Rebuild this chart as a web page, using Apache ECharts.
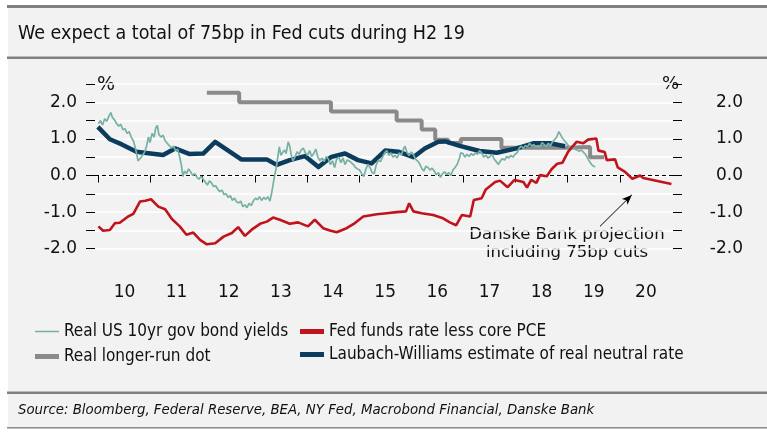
<!DOCTYPE html>
<html>
<head>
<meta charset="utf-8">
<script src="https://cdn.jsdelivr.net/npm/echarts@6/dist/echarts.min.js"></script>
<style>
html,body{margin:0;padding:0;background:#fff;}
#chart{width:767px;height:437px;}
</style>
</head>
<body>
<div id="chart"></div>
<script>
// ---------- DATA (decimal year, % value) ----------
const yearTicks = [2010,2011,2012,2013,2014,2015,2016,2017,2018,2019,2020];
const yearLabelPos = [2010.5,2011.5,2012.5,2013.5,2014.5,2015.5,2016.5,2017.5,2018.5,2019.5,2020.5];
const yearLabels = ['10','11','12','13','14','15','16','17','18','19','20'];
const yTickVals = [-2,-1.5,-1,-0.5,0,0.5,1,1.5,2,2.5];
const yLabelVals = [-2,-1,0,1,2];

const seriesNames = ['Real US 10yr gov bond yields','Fed funds rate less core PCE','Real longer-run dot','Laubach-Williams estimate of real neutral rate'];

const realYield10y = [
[2010.00,1.42],[2010.04,1.50],[2010.08,1.38],[2010.12,1.55],[2010.16,1.48],[2010.20,1.62],[2010.24,1.72],[2010.27,1.58],
[2010.31,1.52],[2010.35,1.42],[2010.39,1.35],[2010.43,1.40],[2010.47,1.25],[2010.51,1.28],[2010.55,1.15],[2010.59,1.20],
[2010.63,1.05],[2010.67,0.95],[2010.70,0.80],[2010.73,0.62],[2010.76,0.40],[2010.79,0.35],[2010.82,0.50],[2010.85,0.45],
[2010.88,0.62],[2010.92,0.78],[2010.96,1.05],[2010.99,0.90],[2011.03,1.15],[2011.07,1.05],[2011.10,1.30],[2011.13,1.37],
[2011.16,1.12],[2011.20,1.05],[2011.24,1.10],[2011.28,0.95],[2011.32,0.88],[2011.36,0.82],[2011.40,0.75],[2011.44,0.80],
[2011.48,0.68],[2011.52,0.72],[2011.56,0.50],[2011.59,0.30],[2011.62,-0.03],[2011.65,0.12],[2011.69,0.05],[2011.73,0.18],
[2011.77,0.10],[2011.81,0.00],[2011.85,0.05],[2011.89,-0.05],[2011.93,-0.10],[2011.97,-0.02],[2012.01,-0.10],[2012.05,-0.18],
[2012.09,-0.26],[2012.13,-0.15],[2012.17,-0.20],[2012.21,-0.30],[2012.25,-0.28],[2012.29,-0.38],[2012.33,-0.44],[2012.37,-0.40],
[2012.41,-0.52],[2012.45,-0.50],[2012.49,-0.60],[2012.53,-0.55],[2012.57,-0.68],[2012.61,-0.62],[2012.65,-0.72],[2012.69,-0.75],
[2012.73,-0.70],[2012.77,-0.85],[2012.81,-0.80],[2012.85,-0.88],[2012.89,-0.76],[2012.93,-0.82],[2012.97,-0.70],[2013.01,-0.62],
[2013.05,-0.66],[2013.09,-0.58],[2013.13,-0.68],[2013.17,-0.60],[2013.21,-0.65],[2013.25,-0.58],[2013.29,-0.70],[2013.32,-0.50],
[2013.35,-0.25],[2013.38,0.00],[2013.41,0.20],[2013.44,0.50],[2013.47,0.78],[2013.50,0.55],[2013.53,0.62],[2013.57,0.70],
[2013.60,0.60],[2013.64,0.92],[2013.67,0.80],[2013.70,0.55],[2013.73,0.40],[2013.77,0.50],[2013.81,0.65],[2013.85,0.58],
[2013.89,0.70],[2013.93,0.75],[2013.97,0.62],[2014.01,0.55],[2014.05,0.68],[2014.09,0.52],[2014.13,0.60],[2014.17,0.72],
[2014.21,0.50],[2014.25,0.40],[2014.29,0.48],[2014.33,0.38],[2014.37,0.52],[2014.41,0.45],[2014.45,0.30],[2014.49,0.40],
[2014.53,0.22],[2014.57,0.45],[2014.61,0.50],[2014.65,0.35],[2014.69,0.48],[2014.73,0.30],[2014.77,0.42],[2014.81,0.40],
[2014.85,0.35],[2014.89,0.30],[2014.93,0.22],[2014.97,0.18],[2015.01,0.15],[2015.05,0.05],[2015.09,-0.03],[2015.13,0.18],
[2015.17,0.30],[2015.21,0.22],[2015.25,0.08],[2015.29,0.05],[2015.33,0.30],[2015.37,0.42],[2015.41,0.38],[2015.45,0.50],
[2015.49,0.62],[2015.53,0.68],[2015.57,0.55],[2015.61,0.62],[2015.65,0.50],[2015.69,0.55],[2015.73,0.48],[2015.77,0.62],
[2015.81,0.56],[2015.85,0.72],[2015.88,0.80],[2015.92,0.62],[2015.96,0.55],[2016.00,0.64],[2016.04,0.58],[2016.08,0.45],
[2016.12,0.40],[2016.16,0.32],[2016.20,0.20],[2016.24,0.12],[2016.28,0.25],[2016.32,0.22],[2016.36,0.15],[2016.40,0.20],
[2016.44,0.12],[2016.48,0.02],[2016.52,0.08],[2016.56,-0.05],[2016.60,0.05],[2016.64,0.10],[2016.68,0.02],[2016.72,0.08],
[2016.76,0.00],[2016.80,0.15],[2016.84,0.22],[2016.88,0.30],[2016.92,0.45],[2016.95,0.62],[2016.99,0.60],[2017.03,0.50],
[2017.07,0.58],[2017.11,0.52],[2017.15,0.60],[2017.19,0.55],[2017.23,0.62],[2017.27,0.58],[2017.31,0.68],[2017.35,0.62],
[2017.39,0.50],[2017.43,0.56],[2017.47,0.48],[2017.51,0.52],[2017.55,0.58],[2017.59,0.45],[2017.63,0.38],[2017.67,0.30],
[2017.71,0.40],[2017.75,0.46],[2017.79,0.42],[2017.83,0.52],[2017.87,0.48],[2017.91,0.55],[2017.95,0.50],[2017.99,0.58],
[2018.03,0.62],[2018.07,0.75],[2018.11,0.80],[2018.15,0.74],[2018.19,0.82],[2018.23,0.78],[2018.27,0.88],[2018.31,0.80],
[2018.35,0.85],[2018.39,0.76],[2018.43,0.82],[2018.47,0.78],[2018.51,0.90],[2018.55,0.84],[2018.59,0.80],[2018.63,0.88],
[2018.67,0.82],[2018.71,0.92],[2018.75,0.98],[2018.79,1.05],[2018.83,1.20],[2018.86,1.15],[2018.90,1.02],[2018.94,0.95],
[2018.98,0.88],[2019.02,0.80],[2019.06,0.75],[2019.10,0.78],[2019.14,0.72],[2019.18,0.70],[2019.22,0.66],[2019.26,0.70],
[2019.30,0.64],[2019.34,0.58],[2019.38,0.48],[2019.42,0.38],[2019.46,0.30],[2019.50,0.25],[2019.53,0.24]
];

const fedFundsLessPCE = [
[2010.00,-1.39],[2010.09,-1.51],[2010.22,-1.49],[2010.32,-1.30],[2010.41,-1.29],[2010.57,-1.12],[2010.67,-1.05],[2010.80,-0.71],
[2010.90,-0.69],[2011.01,-0.65],[2011.15,-0.85],[2011.28,-0.92],[2011.41,-1.19],[2011.56,-1.39],[2011.69,-1.62],[2011.82,-1.56],
[2011.95,-1.76],[2012.08,-1.88],[2012.24,-1.85],[2012.40,-1.67],[2012.56,-1.57],[2012.68,-1.41],[2012.81,-1.65],[2012.94,-1.48],
[2013.10,-1.32],[2013.23,-1.26],[2013.35,-1.15],[2013.48,-1.21],[2013.67,-1.32],[2013.83,-1.28],[2014.02,-1.39],[2014.15,-1.21],
[2014.31,-1.44],[2014.44,-1.50],[2014.57,-1.55],[2014.76,-1.44],[2014.92,-1.30],[2015.08,-1.12],[2015.34,-1.06],[2015.53,-1.03],
[2015.72,-1.00],[2015.90,-0.98],[2015.96,-0.76],[2016.04,-0.98],[2016.20,-1.03],[2016.42,-1.08],[2016.61,-1.17],[2016.74,-1.28],
[2016.86,-1.36],[2016.97,-1.08],[2017.13,-1.12],[2017.20,-0.67],[2017.35,-0.62],[2017.43,-0.38],[2017.61,-0.18],[2017.70,-0.14],
[2017.85,-0.32],[2017.98,-0.12],[2018.15,-0.18],[2018.22,-0.33],[2018.30,-0.12],[2018.40,-0.20],[2018.47,0.01],[2018.60,-0.02],
[2018.69,0.17],[2018.80,0.32],[2018.90,0.35],[2019.01,0.65],[2019.17,0.92],[2019.30,0.88],[2019.39,0.98],[2019.55,1.01],
[2019.59,0.68],[2019.71,0.64],[2019.75,0.42],[2019.91,0.44],[2019.96,0.22],[2020.10,0.10],[2020.24,-0.09],[2020.39,0.00],
[2020.45,-0.07],[2020.99,-0.23]
];

const realLongerRunDot = [
[2012.08,2.26],[2012.70,2.00],[2014.46,1.75],[2015.72,1.50],[2016.20,1.26],[2016.46,0.98],[2016.71,0.89],[2016.95,1.00],
[2017.73,0.76],[2018.95,0.78],[2019.43,0.50],[2019.70,0.50]
];

const laubachWilliams = [
[2009.99,1.33],[2010.22,0.99],[2010.45,0.85],[2010.73,0.65],[2011.00,0.60],[2011.24,0.56],[2011.47,0.74],[2011.74,0.59],
[2012.01,0.60],[2012.24,0.92],[2012.74,0.44],[2013.23,0.44],[2013.42,0.29],[2013.67,0.42],[2013.96,0.53],[2014.22,0.23],
[2014.47,0.51],[2014.73,0.60],[2014.98,0.42],[2015.24,0.33],[2015.50,0.68],[2015.75,0.65],[2016.04,0.50],[2016.26,0.74],
[2016.52,0.92],[2016.65,0.93],[2016.93,0.81],[2017.31,0.67],[2017.64,0.62],[2018.02,0.74],[2018.34,0.88],[2018.66,0.88],
[2018.95,0.80]
];

const arrowFrom = [2019.62,-1.39];
const arrowTo = [2020.23,-0.53];

// ---------- STYLE ----------
const C_GREEN = '#76b1a4', C_RED = '#c0141c', C_GRAY = '#8a8a8a', C_NAVY = '#0b3c5d';
const F_WIDE = "'DejaVu Sans', sans-serif";
const F_COND = "'DejaVu Sans Condensed', 'Liberation Sans Narrow', 'DejaVu Sans', sans-serif";

const chart = echarts.init(document.getElementById('chart'), null, {renderer:'canvas'});

const legendText = {fontSize: 17, color: '#111', fontFamily: F_COND};

const option = {
  animation: false,
  backgroundColor: '#f2f2f2',
  grid: {left: 95, right: 94, top: 84, bottom: 170, containLabel: false},
  xAxis: {
    type: 'value', min: 2009.935, max: 2021.02,
    axisLine: {show: false},
    splitLine: {show: false},
    axisTick: {show: true, customValues: yearTicks, length: 7, lineStyle: {color: '#000', width: 1}},
    axisLabel: {
      customValues: yearLabelPos, margin: 17, fontSize: 17, color: '#111', fontFamily: F_WIDE,
      formatter: v => yearLabels[yearLabelPos.indexOf(v)] || ''
    }
  },
  yAxis: [
    {
      type: 'value', position: 'left', min: -2.5, max: 2.5, interval: 0.5,
      axisLine: {show: false},
      axisTick: {show: true, customValues: yTickVals, length: 9, lineStyle: {color: '#000', width: 1}},
      axisLabel: {customValues: yLabelVals, formatter: v => v.toFixed(1), margin: 18, fontSize: 17, color: '#111', fontFamily: F_WIDE},
      splitLine: {show: true, lineStyle: {color: '#ffffff', width: 1.5}}
    },
    {
      type: 'value', position: 'right', min: -2.5, max: 2.5, interval: 0.5,
      axisLine: {show: false},
      axisTick: {show: true, customValues: yTickVals, length: 9, lineStyle: {color: '#000', width: 1}},
      axisLabel: {customValues: yLabelVals, formatter: v => v.toFixed(1), margin: 70, align: 'right', fontSize: 17, color: '#111', fontFamily: F_WIDE},
      splitLine: {show: false}
    }
  ],
  legend: [
    {data: [seriesNames[0]], left: 35, top: 323, padding: 0, orient: 'vertical', icon: 'rect', itemWidth: 24, itemHeight: 1.5,
     textStyle: legendText},
    {data: [seriesNames[2]], left: 35, top: 348, padding: 0, orient: 'vertical', icon: 'rect', itemWidth: 24, itemHeight: 5,
     textStyle: legendText},
    {data: [seriesNames[1], seriesNames[3]], left: 300, top: 323, padding: 0, orient: 'vertical', icon: 'rect', itemWidth: 24, itemHeight: 5, itemGap: 6,
     textStyle: legendText}
  ],
  series: [
    {
      name: seriesNames[2], type: 'line', data: realLongerRunDot, step: 'end', symbol: 'none', z: 2,
      color: C_GRAY, lineStyle: {color: C_GRAY, width: 4}
    },
    {
      name: seriesNames[3], type: 'line', data: laubachWilliams, symbol: 'none', z: 3,
      color: C_NAVY, lineStyle: {color: C_NAVY, width: 4.5, join: 'round'},
      markLine: {
        silent: true, animation: false, symbol: ['none', 'none'],
        data: [{yAxis: 0}],
        lineStyle: {color: '#000', width: 1, type: [4, 3]},
        label: {show: false}, z: 1
      }
    },
    {
      name: seriesNames[0], type: 'line', data: realYield10y, symbol: 'none', z: 4,
      color: C_GREEN, lineStyle: {color: C_GREEN, width: 1.7}
    },
    {
      name: seriesNames[1], type: 'line', data: fedFundsLessPCE, symbol: 'none', z: 5,
      color: C_RED, lineStyle: {color: C_RED, width: 2.6},
      markLine: {
        silent: true, animation: false, symbol: ['none', 'arrow'], symbolSize: [6, 10],
        data: [[{coord: arrowFrom}, {coord: arrowTo}]],
        lineStyle: {color: '#000', width: 1, type: 'solid'},
        label: {show: false}
      }
    }
  ],
  graphic: [
    {type: 'rect', shape: {x: 0, y: 0, width: 767, height: 5}, style: {fill: '#fff'}, silent: true},
    {type: 'rect', shape: {x: 0, y: 0, width: 8, height: 437}, style: {fill: '#fff'}, silent: true},
    {type: 'rect', shape: {x: 0, y: 429, width: 767, height: 8}, style: {fill: '#fff'}, silent: true},
    {type: 'rect', shape: {x: 7, y: 5, width: 760, height: 3}, style: {fill: '#808080'}, silent: true},
    {type: 'rect', shape: {x: 7, y: 56.5, width: 760, height: 2.5}, style: {fill: '#808080'}, silent: true},
    {type: 'rect', shape: {x: 7, y: 391.5, width: 760, height: 2.5}, style: {fill: '#808080'}, silent: true},
    {type: 'rect', shape: {x: 7, y: 427, width: 760, height: 1.5}, style: {fill: '#8c8c8c'}, silent: true},
    {type: 'text', left: 18, top: 24, style: {text: 'We expect a total of 75bp in Fed cuts during H2 19', font: "19.5px 'DejaVu Sans Condensed', 'Liberation Sans Narrow', 'DejaVu Sans', sans-serif", fill: '#111'}},
    {type: 'text', left: 18, top: 403, style: {text: 'Source: Bloomberg, Federal Reserve, BEA, NY Fed, Macrobond Financial, Danske Bank', font: "italic 14.8px 'DejaVu Sans Condensed', 'Liberation Sans Narrow', 'DejaVu Sans', sans-serif", fill: '#111'}},
    {type: 'text', left: 97, top: 76, style: {text: '%', font: "19px 'DejaVu Sans', sans-serif", fill: '#111'}},
    {type: 'text', left: 662, top: 75, style: {text: '%', font: "18px 'DejaVu Sans', sans-serif", fill: '#111'}},
    {type: 'text', x: 567, y: 226, style: {text: 'Danske Bank projection\nincluding 75bp cuts', font: "16.5px 'DejaVu Sans', sans-serif", fill: '#111', align: 'center', lineHeight: 18}}
  ]
};
chart.setOption(option);
</script>
</body>
</html>
